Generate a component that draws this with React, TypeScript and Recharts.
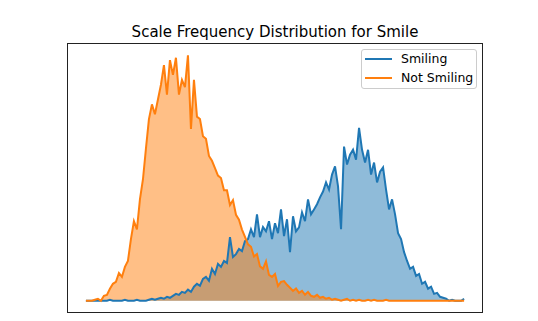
import React from 'react'
import { ComposedChart, Area, Line, XAxis, YAxis, Legend } from 'recharts'

// bin positions along the scale axis (index of histogram bin)
const bins: number[] = Array.from({ length: 127 }, (_, i) => i)

// frequency, scaled so the orange peak is 100
const smiling: number[] = [
  0, 0, 0, 0, 0, 0, 0, 0, 0.4, 0, 0, 0, 0, 0.4, 0, 0, 0, 0.4, 0, 0, 0,
  0.4, 0.8, 0.4, 0.8, 1.2, 0.8, 1.6, 1.2, 2, 2.8, 2.4, 3.6, 3.2, 4.5, 3.6, 5.7, 6.9, 6.1, 8.9,
  9.7, 8.1, 13, 10.9, 15, 13.8, 16.2, 15.4, 25.9, 17.8, 19, 21.1, 20.2, 24.3, 25.1, 29.1, 25.9, 35.2, 25.9, 30,
  28.3, 32.4, 25.1, 31.6, 27.5, 37.2, 26.3, 33.2, 19.8, 34.4, 28.3, 29.9, 36, 32.4, 41.3, 35.2, 37.2, 39.3, 42.1, 44.5,
  48.2, 45.3, 51.4, 54.7, 46.6, 29.1, 62.8, 55.5, 59.5, 61.5, 57.5, 70.4, 61.5, 56.3, 61.5, 51.4, 56.3, 48.2, 52.6, 54.3,
  45.3, 37.2, 41.3, 35.2, 27.5, 25.1, 19.8, 16.2, 13, 13.8, 10.1, 10.9, 6.9, 7.7, 4.9, 5.7, 2.8, 3.2, 1.6, 1.2,
  0.8, 0, 0.4, 0, 0, 0, 0.8
]

const notSmiling: number[] = [
  0, 0, 0, 0.4, 0.8, 0, 2, 2.4, 4.9, 6.9, 7.7, 11.3, 9.7, 13.8, 16.2, 25.1, 32.4, 29.1, 41.3, 49.4,
  62, 74, 80, 76, 82, 88, 96, 84, 98, 92, 99, 84, 90, 87, 100, 70, 90, 75, 74, 67,
  66, 59, 57, 54, 51, 50, 45, 45, 39, 41, 35, 33, 29, 26, 23, 22, 18, 19, 14, 13,
  16, 10.5, 9.7, 10.9, 6, 7.7, 8, 6.5, 5.3, 4, 5, 3.2, 4, 2.4, 3.6, 2, 1.6, 2.4, 1.2, 1.6,
  0.8, 1.2, 0.4, 0.8, 0.4, 0, 0.4, 0.8, 0, 0.4, 0, 0.4, 0, 0, 0.4, 0, 0.4, 0, 0, 0,
  0.4, 0, 0, 0, 0, 0, 0, 0, 0, 0, 0, 0, 0, 0, 0, 0, 0, 0, 0, 0,
  0, 0, 0, 0, 0, 0, 0
]

const seriesNames = ['Smiling', 'Not Smiling']
const seriesColors = ['#1f77b4', '#ff7f0e']

const data = bins.map((b, i) => ({ bin: b, smiling: smiling[i], notSmiling: notSmiling[i] }))

const font = '"DejaVu Sans", sans-serif'

// matplotlib style legend box
const LegendBox = () => (
  <div
    style={{
      width: 114,
      height: 38,
      border: '1px solid #cccccc',
      borderRadius: 3,
      background: 'rgba(255,255,255,0.8)',
      fontFamily: font,
      fontSize: 12.5,
      color: '#000',
      paddingTop: 0.6,
      boxSizing: 'content-box'
    }}
  >
    {seriesNames.map((name, i) => (
      <div key={name} style={{ display: 'flex', alignItems: 'center', height: 18.3 }}>
        <svg width={27} height={4} style={{ marginLeft: 3, display: 'block' }}>
          <line x1={0} y1={2} x2={27} y2={2} stroke={seriesColors[i]} strokeWidth={2} />
        </svg>
        <span style={{ marginLeft: 9, whiteSpace: 'nowrap', lineHeight: '14px' }}>{name}</span>
      </div>
    ))}
  </div>
)

export default function App() {
  const n = bins.length - 1
  const pad = n * 0.05

  return (
    <div style={{ position: 'absolute', left: 0, top: 0, width: 538, height: 321, background: '#fff' }}>
      <div
        style={{
          position: 'absolute',
          left: 67,
          width: 416,
          top: 25,
          textAlign: 'center',
          fontFamily: font,
          fontSize: 15,
          lineHeight: '15px',
          color: '#000',
          whiteSpace: 'nowrap'
        }}
      >
        Scale Frequency Distribution for Smile
      </div>

      <ComposedChart width={538} height={321} data={data} margin={{ top: 43, right: 55, bottom: 8, left: 67 }}>
        <XAxis dataKey="bin" type="number" domain={[-pad, n + pad]} hide />
        <YAxis type="number" domain={[-5, 105]} hide />
        {/* fills first, lines on top like the original */}
        <Area
          type="linear"
          dataKey="smiling"
          stroke="none"
          fill={seriesColors[0]}
          fillOpacity={0.5}
          isAnimationActive={false}
          legendType="none"
          activeDot={false}
        />
        <Area
          type="linear"
          dataKey="notSmiling"
          stroke="none"
          fill={seriesColors[1]}
          fillOpacity={0.5}
          isAnimationActive={false}
          legendType="none"
          activeDot={false}
        />
        <Line
          type="linear"
          dataKey="smiling"
          stroke={seriesColors[0]}
          strokeWidth={2}
          dot={false}
          activeDot={false}
          isAnimationActive={false}
        />
        <Line
          type="linear"
          dataKey="notSmiling"
          stroke={seriesColors[1]}
          strokeWidth={2}
          dot={false}
          activeDot={false}
          isAnimationActive={false}
        />
        <Legend
          layout="vertical"
          align="center"
          verticalAlign="middle"
          content={() => <LegendBox />}
          wrapperStyle={{ left: 361, top: 48.7, width: 116 }}
        />
      </ComposedChart>

      {/* axes frame */}
      <div
        style={{
          position: 'absolute',
          left: 67,
          top: 43,
          width: 416,
          height: 270,
          border: '1px solid #222',
          boxSizing: 'border-box',
          pointerEvents: 'none'
        }}
      />
    </div>
  )
}
